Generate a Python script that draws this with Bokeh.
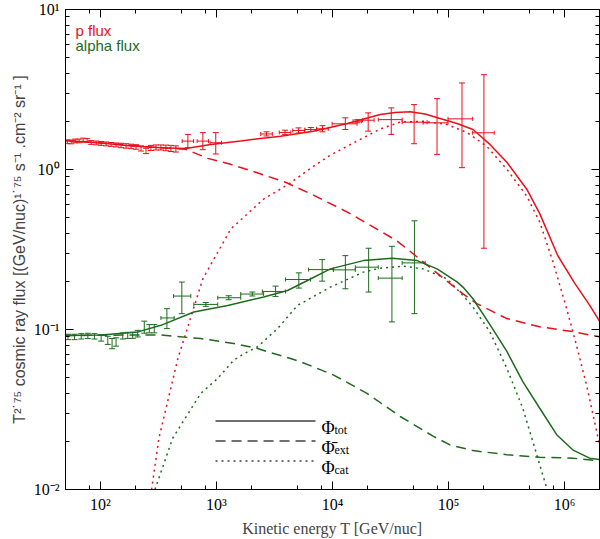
import numpy as np
from bokeh.plotting import figure
from bokeh.models import (ColumnDataSource, Whisker, TeeHead, FixedTicker, LogAxis,
                          Label, Arrow, Range1d)
from bokeh.embed import file_html
from bokeh.resources import INLINE

# ---------------- model curves ----------------
P_TOT_T = [50, 101, 184, 332, 545, 893, 1618, 2402, 3568, 6855, 13430, 25790, 34700, 46700,
           62830, 84520, 118300, 162400, 227300, 318200, 472500, 611000, 872500, 1221000,
           1643000, 2000000]
P_TOT_F = [1.519, 1.466, 1.404, 1.369, 1.355, 1.435, 1.509, 1.564, 1.616, 1.736, 1.94, 2.206,
           2.270, 2.293, 2.222, 2.083, 1.939, 1.779, 1.435, 1.109, 0.753, 0.530, 0.290, 0.195,
           0.142, 0.113]

P_EXT_T = [50, 101, 273, 545, 842, 1327, 2176, 3939, 6855, 13430, 25790, 36110, 53620, 89700,
           133200, 175800, 318200, 611000, 1174000, 2000000]
P_EXT_F = [1.519, 1.466, 1.384, 1.336, 1.174, 1.077, 0.961, 0.832, 0.691, 0.542, 0.4125, 0.357,
           0.284, 0.210, 0.167, 0.145, 0.117, 0.104, 0.097, 0.090]

P_CAT_T = [276, 319, 465, 763, 1327, 2549, 4180, 6855, 9594, 13430, 25790, 38310, 60390, 97070,
           144200, 214200, 318200, 472500, 611000, 790600, 1042000, 1271000, 1548000, 1887000,
           2000000]
P_CAT_F = [0.0100, 0.0209, 0.0659, 0.207, 0.4245, 0.653, 0.809, 1.047, 1.23, 1.40, 1.79, 1.98,
           2.00, 1.911, 1.704, 1.394, 1.003, 0.681, 0.469, 0.268, 0.135, 0.079, 0.0448, 0.0232,
           0.0189]

A_TOT_T = [50, 101, 211, 332, 638, 1251, 2549, 4099, 6087, 9594, 18430, 32710, 53620, 79660,
           118300, 133200, 162400, 227300, 318200, 436500, 611000, 855400, 1174000, 1643000,
           2000000]
A_TOT_F = [0.0916, 0.0923, 0.0966, 0.1062, 0.1287, 0.1414, 0.1595, 0.1753, 0.2024, 0.2393,
           0.2695, 0.2790, 0.2695, 0.2393, 0.1986, 0.1841, 0.1557, 0.1073, 0.0729, 0.0472,
           0.0322, 0.0220, 0.0177, 0.0157, 0.0154]

A_EXT_T = [50, 151, 332, 733, 1408, 2264, 2758, 4347, 5301, 10240, 19830, 38310, 74040, 103000,
           162400, 318200, 611000, 1174000, 2000000]
A_EXT_F = [0.0916, 0.0923, 0.0923, 0.0878, 0.0818, 0.0760, 0.0725, 0.0659, 0.0629, 0.0519,
           0.0399, 0.0286, 0.0215, 0.0190, 0.0175, 0.0165, 0.0159, 0.0157, 0.0151]

A_CAT_T = [295, 419, 733, 1026, 1408, 1683, 2264, 3362, 4994, 9594, 18430, 25790, 40650, 60390,
           97070, 133200, 162400, 227300, 318200, 436500, 576000, 702000]
A_CAT_F = [0.0100, 0.0209, 0.0399, 0.0495, 0.0643, 0.0698, 0.0780, 0.1013, 0.1414, 0.1841,
           0.2283, 0.2417, 0.2488, 0.2393, 0.2074, 0.1632, 0.1382, 0.0966, 0.0571, 0.0322,
           0.0165, 0.0102]

# ---------------- measurements ----------------
P1_T = [51.8, 56.0, 60.6, 65.6, 71.0, 76.9, 83.2, 91.9, 101.4, 111.9, 123.6, 136.4, 150.6,
        166.3, 183.5, 202.6, 223.7, 247.0, 272.6, 301, 332, 367, 405, 447]
P1_F = [1.491, 1.487, 1.509, 1.509, 1.530, 1.519, 1.476, 1.466, 1.455, 1.445, 1.435, 1.424,
        1.414, 1.404, 1.394, 1.384, 1.355, 1.307, 1.365, 1.374, 1.374, 1.365, 1.355, 1.345]
P1_ERR = [0.04, 0.04, 0.04, 0.04, 0.04, 0.04, 0.04, 0.04, 0.04, 0.04, 0.04, 0.04, 0.045,
          0.045, 0.045, 0.045, 0.05, 0.05, 0.05, 0.05, 0.05, 0.055, 0.06, 0.06]

P2_T = [567, 763, 986]
P2_F = [1.505, 1.505, 1.470]
P2_LO = [1.369, 1.33, 1.25]
P2_HI = [1.656, 1.70, 1.70]
P2_TLO = [506, 681, 880]
P2_THI = [635, 855, 1105]

P3_T = [2700, 3900, 5100, 6500, 8200, 12900, 16400, 20300, 32100, 50500, 79600, 130600, 201800]
P3_F = [1.668, 1.704, 1.754, 1.779, 1.797, 1.930, 2.004, 2.032, 2.050, 1.975, 1.958, 2.073, 1.696]
P3_LO = [1.62, 1.65, 1.69, 1.73, 1.72, 1.779, 1.96, 1.736, 1.656, 1.449, 1.243, 1.027, 0.322]
P3_HI = [1.72, 1.76, 1.82, 1.83, 1.88, 2.104, 2.05, 2.259, 2.428, 2.545, 2.773, 3.474, 3.912]
P3_TLO = [2406, 3476, 4545, 5793, 7308, 9922, 15030, 18120, 24800, 39860, 60390, 99000, 161400]
P3_THI = [3030, 4376, 5722, 7293, 9200, 16270, 17830, 22810, 39860, 65370, 99000, 161400, 247500]

A1_T = [52.5, 59.8, 68.3, 77.9, 88.8, 101.4, 115.8, 126.0, 136.4, 155.7, 171.9, 189.8, 209.5,
        238.8, 263.6, 291.0]
A1_F = [0.0899, 0.0899, 0.0907, 0.0912, 0.0907, 0.0886, 0.0857, 0.0818, 0.0837, 0.0912,
        0.0920, 0.0920, 0.0943, 0.1038, 0.1013, 0.1013]
A1_ERR = [0.0035, 0.0035, 0.0035, 0.0035, 0.0035, 0.004, 0.005, 0.006, 0.005, 0.004, 0.004,
          0.004, 0.0045, 0.009, 0.006, 0.006]

A2_T = [374, 503, 809, 1276, 2038, 3230, 5126, 8150, 12910, 20490, 32520, 50820]
A2_F = [0.1181, 0.1618, 0.1435, 0.1579, 0.1666, 0.1729, 0.2053, 0.2368, 0.2359, 0.2452,
        0.2095, 0.2608]
A2_LO = [0.1013, 0.1256, 0.1395, 0.1535, 0.1620, 0.161, 0.1815, 0.2006, 0.1797, 0.1714,
         0.1115, 0.1256]
A2_HI = [0.1349, 0.1979, 0.1475, 0.1625, 0.1715, 0.1867, 0.2259, 0.2734, 0.2895, 0.322,
         0.3312, 0.478]
A2_TLO = [332, 427, 638, 1026, 1618, 2485, 3939, 6208, 10180, 15730, 24800, 39860]
A2_THI = [432, 601, 1026, 1618, 2549, 3939, 6459, 10180, 15730, 24800, 39860, 62830]

# ---------------- ticks ----------------
X_TICKS = [1e2, 1e3, 1e4, 1e5, 1e6]
X_TICK_LABELS = ["10\u00b2", "10\u00b3", "10\u2074", "10\u2075", "10\u2076"]
X_MINOR = [80, 200, 500, 800, 2000, 5000, 8000, 2e4, 5e4, 8e4, 2e5, 5e5, 8e5]
Y_TICKS = [0.01, 0.1, 1.0, 10.0]
Y_TICK_LABELS = ["10\u207b\u00b2", "10\u207b\u00b9", "10\u2070", "10\u00b9"]
Y_MINOR = [m * d for d in (0.01, 0.1, 1.0) for m in range(2, 10)]

RED = "#ea0f1a"
GREEN = "#1d6b1d"
GREY = "#707070"
SERIF = "Liberation Serif"
SANS = "Liberation Sans"

p = figure(width=600, height=539, x_axis_type="log", y_axis_type="log",
           x_range=Range1d(50, 2e6), y_range=Range1d(0.01, 10),
           output_backend="svg", toolbar_location=None,
           min_border_left=65, min_border_right=1, min_border_top=9, min_border_bottom=47)
p.grid.visible = False
p.outline_line_color = "black"
p.outline_line_width = 1
p.background_fill_color = "white"
p.border_fill_color = "white"


def style_axis(ax, ticks, minor, labels, show):
    ax.ticker = FixedTicker(ticks=ticks, minor_ticks=minor)
    ax.major_tick_in = 8
    ax.major_tick_out = 0
    ax.minor_tick_in = 4
    ax.minor_tick_out = 0
    ax.axis_line_color = "black"
    ax.major_tick_line_color = "black"
    ax.minor_tick_line_color = "black"
    if show:
        ax.major_label_overrides = {t: s for t, s in zip(ticks, labels)}
        ax.major_label_text_font = SERIF
        ax.major_label_text_font_size = "16px"
        ax.major_label_text_color = "black"
        ax.major_label_standoff = 6
    else:
        ax.major_label_text_font_size = "1px"
        ax.major_label_text_color = None
        ax.major_label_standoff = 0


xa = p.xaxis[0]
ya = p.yaxis[0]
style_axis(xa, X_TICKS, X_MINOR, X_TICK_LABELS, True)
style_axis(ya, Y_TICKS, Y_MINOR, Y_TICK_LABELS, True)
xa.axis_label = "Kinetic energy T [GeV/nuc]"
xa.axis_label_text_font = SERIF
xa.axis_label_text_font_style = "normal"
xa.axis_label_text_font_size = "16px"
xa.axis_label_standoff = 4
ya.axis_label = "T\u00b2\u02d9\u2077\u2075 cosmic ray flux [(GeV/nuc)\u00b9\u02d9\u2077\u2075 s\u207b\u00b9 .cm\u207b\u00b2 sr\u207b\u00b9 ]"
ya.axis_label_text_font = SANS
ya.axis_label_text_font_style = "normal"
ya.axis_label_text_font_size = "16px"
ya.axis_label_standoff = 3

top = LogAxis()
style_axis(top, X_TICKS, X_MINOR, X_TICK_LABELS, False)
p.add_layout(top, "above")
right = LogAxis()
style_axis(right, Y_TICKS, Y_MINOR, Y_TICK_LABELS, False)
p.add_layout(right, "right")

# ---------------- curves ----------------
W = 1.5
p.line(P_TOT_T, P_TOT_F, line_color=RED, line_width=W)
p.line(P_EXT_T, P_EXT_F, line_color=RED, line_width=W, line_dash="10 6")
p.line(P_CAT_T, P_CAT_F, line_color=RED, line_width=W, line_dash="2 4")
p.line(A_TOT_T, A_TOT_F, line_color=GREEN, line_width=W)
p.line(A_EXT_T, A_EXT_F, line_color=GREEN, line_width=W, line_dash="10 6")
p.line(A_CAT_T, A_CAT_F, line_color=GREEN, line_width=W, line_dash="2 4")


# ---------------- error bars ----------------
def add_errors(T, F, lo, hi, color, tlo=None, thi=None):
    data = dict(T=T, F=F, lo=lo, hi=hi)
    if tlo is not None:
        data.update(tlo=tlo, thi=thi)
    src = ColumnDataSource(data)
    p.add_layout(Whisker(source=src, base="T", lower="lo", upper="hi", dimension="height",
                         line_color=color, line_width=1,
                         lower_head=TeeHead(size=6, line_color=color, line_width=1),
                         upper_head=TeeHead(size=6, line_color=color, line_width=1)))
    if tlo is not None:
        p.add_layout(Whisker(source=src, base="F", lower="tlo", upper="thi", dimension="width",
                             line_color=color, line_width=1,
                             lower_head=TeeHead(size=4, line_color=color, line_width=1),
                             upper_head=TeeHead(size=4, line_color=color, line_width=1)))


P1_Fa = np.array(P1_F); P1_Ea = np.array(P1_ERR)
add_errors(P1_T, P1_F, list(P1_Fa - P1_Ea), list(P1_Fa + P1_Ea), RED)
add_errors(P2_T, P2_F, P2_LO, P2_HI, RED, P2_TLO, P2_THI)
add_errors(P3_T, P3_F, P3_LO, P3_HI, RED, P3_TLO, P3_THI)
A1_Fa = np.array(A1_F); A1_Ea = np.array(A1_ERR)
add_errors(A1_T, A1_F, list(A1_Fa - A1_Ea), list(A1_Fa + A1_Ea), GREEN)
add_errors(A2_T, A2_F, A2_LO, A2_HI, GREEN, A2_TLO, A2_THI)

# ---------------- legends (screen units, frame-relative) ----------------
p.add_layout(Label(x=10, y=459, x_units="screen", y_units="screen", text="p flux",
                   text_color=RED, text_font=SANS, text_font_size="15px",
                   text_baseline="alphabetic"))
p.add_layout(Label(x=10, y=444, x_units="screen", y_units="screen", text="alpha flux",
                   text_color=GREEN, text_font=SANS, text_font_size="15px",
                   text_baseline="alphabetic"))

KEY_Y = [68.4, 48.4, 28.4]
KEY_DASH = ["solid", "10 6", "2 4"]
KEY_SUB = ["tot", "ext", "cat"]
KEY_PHI = ["\u03a6", "\u03a6\u0304", "\u03a6"]
for ky, kd, ks, kp in zip(KEY_Y, KEY_DASH, KEY_SUB, KEY_PHI):
    p.add_layout(Arrow(x_start=150, y_start=ky, x_end=250, y_end=ky,
                       start_units="screen", end_units="screen", start=None, end=None,
                       line_color=GREY, line_width=2, line_dash=kd))
    p.add_layout(Label(x=256, y=ky - 7, x_units="screen", y_units="screen", text=kp,
                       text_font=SERIF, text_font_size="18px", text_color="black",
                       text_baseline="alphabetic"))
    p.add_layout(Label(x=269, y=ky - 9, x_units="screen", y_units="screen", text=ks,
                       text_font=SERIF, text_font_size="12px", text_color="black",
                       text_baseline="alphabetic"))

open("out.html", "w").write(file_html(p, INLINE))
